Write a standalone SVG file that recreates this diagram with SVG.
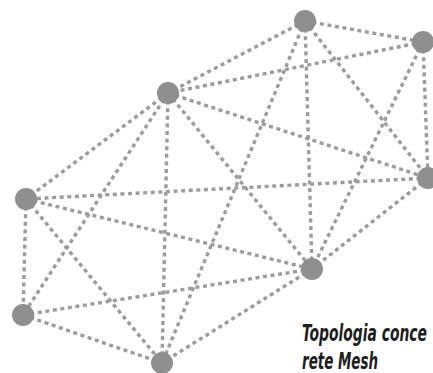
<svg xmlns="http://www.w3.org/2000/svg" width="433" height="373" viewBox="0 0 433 373">
<style>
.e{stroke:#9c9c9c;stroke-width:3.4;stroke-dasharray:4 3.6;fill:none}
.n{fill:#8f8f8f}
.t{font-family:"Liberation Sans Narrow","DejaVu Sans Condensed","Liberation Sans",sans-serif;font-style:italic;font-weight:bold;font-size:23px;fill:#1e1e1e}
</style>
<rect width="433" height="373" fill="#ffffff"/>
<g id="connectors">
<line class="e" x1="305" y1="21" x2="423" y2="42"/>
<line class="e" x1="305" y1="21" x2="168" y2="93"/>
<line class="e" x1="305" y1="21" x2="428" y2="178"/>
<line class="e" x1="305" y1="21" x2="312" y2="269"/>
<line class="e" x1="305" y1="21" x2="162" y2="363"/>
<line class="e" x1="423" y1="42" x2="168" y2="93"/>
<line class="e" x1="423" y1="42" x2="428" y2="178"/>
<line class="e" x1="423" y1="42" x2="312" y2="269"/>
<line class="e" x1="168" y1="93" x2="428" y2="178"/>
<line class="e" x1="168" y1="93" x2="26" y2="199"/>
<line class="e" x1="168" y1="93" x2="312" y2="269"/>
<line class="e" x1="168" y1="93" x2="23" y2="315"/>
<line class="e" x1="168" y1="93" x2="162" y2="363"/>
<line class="e" x1="428" y1="178" x2="26" y2="199"/>
<line class="e" x1="428" y1="178" x2="312" y2="269"/>
<line class="e" x1="26" y1="199" x2="312" y2="269"/>
<line class="e" x1="26" y1="199" x2="23" y2="315"/>
<line class="e" x1="26" y1="199" x2="162" y2="363"/>
<line class="e" x1="312" y1="269" x2="23" y2="315"/>
<line class="e" x1="312" y1="269" x2="162" y2="363"/>
<line class="e" x1="23" y1="315" x2="162" y2="363"/>
</g>
<g id="nA"><circle class="n" cx="305" cy="21" r="11"/></g>
<g id="nB"><circle class="n" cx="423" cy="42" r="11"/></g>
<g id="nC"><circle class="n" cx="168" cy="93" r="11"/></g>
<g id="nD"><circle class="n" cx="428" cy="178" r="11"/></g>
<g id="nE"><circle class="n" cx="26" cy="199" r="11"/></g>
<g id="nF"><circle class="n" cx="312" cy="269" r="11"/></g>
<g id="nG"><circle class="n" cx="23" cy="315" r="11"/></g>
<g id="nH"><circle class="n" cx="162" cy="363" r="11"/></g>
<g id="caption">
<text class="t" x="302" y="341" textLength="125" lengthAdjust="spacingAndGlyphs">Topologia conce</text>
<text class="t" x="302" y="369" textLength="76" lengthAdjust="spacingAndGlyphs">rete Mesh</text>
</g>
</svg>
